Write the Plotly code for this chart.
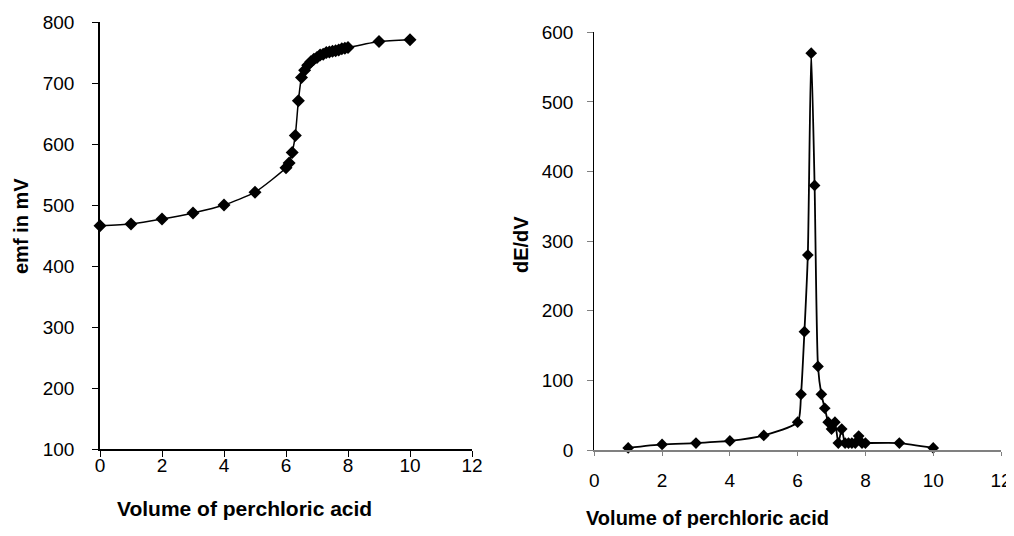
import plotly.graph_objects as go

# Titration data
volume = [0, 1, 2, 3, 4, 5, 6, 6.1, 6.2, 6.3, 6.4, 6.5, 6.6, 6.7, 6.8, 6.9, 7.0,
          7.1, 7.2, 7.3, 7.4, 7.5, 7.6, 7.7, 7.8, 7.9, 8.0, 9, 10]
emf_mv = [466, 469, 477, 487, 500, 521, 561, 569, 586, 614, 671, 709, 721, 729,
          735, 739, 742, 746, 747, 750, 751, 752, 753, 754, 756, 757, 758, 768, 771]

deriv_volume = [1, 2, 3, 4, 5, 6, 6.1, 6.2, 6.3, 6.4, 6.5, 6.6, 6.7, 6.8, 6.9, 7.0,
                7.1, 7.2, 7.3, 7.4, 7.5, 7.6, 7.7, 7.8, 7.9, 8.0, 9, 10]
dE_dV = [3, 8, 10, 13, 21, 40, 80, 170, 280, 570, 380, 120, 80, 60, 40, 30,
         40, 10, 30, 10, 10, 10, 10, 20, 10, 10, 10, 3]

x_ticks = [0, 2, 4, 6, 8, 10, 12]
left_y_ticks = [100, 200, 300, 400, 500, 600, 700, 800]
right_y_ticks = [0, 100, 200, 300, 400, 500, 600]

FONT = "Liberation Sans, Arial, sans-serif"
OFF = 8                 # the page body has a default 8 px margin
W, H = 1014 - OFF, 536 - 2 * OFF   # keep page height within the window (no scrollbar)


def px(x):
    return (x - OFF) / W


def py(y):
    return (H - (y - OFF)) / H


fig = go.Figure()
fig.add_trace(go.Scatter(
    x=volume, y=emf_mv, mode="lines+markers",
    line=dict(color="black", width=1.5, shape="spline", smoothing=0.6),
    marker=dict(symbol="diamond", size=10, color="black"),
    cliponaxis=False, xaxis="x", yaxis="y", showlegend=False))
fig.add_trace(go.Scatter(
    x=deriv_volume, y=dE_dV, mode="lines+markers",
    line=dict(color="black", width=1.8, shape="spline", smoothing=0.6),
    marker=dict(symbol="diamond", size=9, color="black"),
    cliponaxis=False, xaxis="x2", yaxis="y2", showlegend=False))

tickfont = dict(family=FONT, size=19, color="black")

fig.update_layout(
    width=W, height=H,
    margin=dict(l=0, r=0, t=0, b=0, pad=0, autoexpand=False),
    paper_bgcolor="white", plot_bgcolor="white",
    xaxis=dict(domain=[px(100), px(472)], range=[0, 12], tickvals=x_ticks,
               showgrid=False, zeroline=False, showline=True, linecolor="black",
               linewidth=1.5, ticks="outside", ticklen=6, tickcolor="black",
               tickfont=tickfont, ticklabelstandoff=-8, anchor="y",
               automargin=False, ticklabeloverflow="allow"),
    yaxis=dict(domain=[py(449), py(22)], range=[100, 800],
               tickvals=left_y_ticks, showgrid=False, zeroline=False,
               showline=True, linecolor="black", linewidth=1.5,
               ticks="outside", ticklen=6, tickcolor="black",
               tickfont=tickfont, ticklabelstandoff=14, anchor="x",
               automargin=False, ticklabeloverflow="allow"),
    xaxis2=dict(domain=[px(594.3), px(1001)], range=[0, 12], tickvals=x_ticks,
                showgrid=False, zeroline=False, showline=True, linecolor="#808080",
                linewidth=1.5, ticks="outside", ticklen=4, tickcolor="#808080",
                tickfont=tickfont, ticklabelstandoff=8, anchor="y2",
                automargin=False, ticklabeloverflow="allow"),
    yaxis2=dict(domain=[py(450), py(32.3)], range=[0, 600],
                tickvals=right_y_ticks, showgrid=False, zeroline=False,
                showline=True, linecolor="black", linewidth=1.2,
                ticks="outside", ticklen=6, tickcolor="#808080",
                tickfont=tickfont, ticklabelstandoff=10, anchor="x2",
                automargin=False, ticklabeloverflow="allow"),
)

fig.add_annotation(text="<b>Volume of perchloric acid</b>", x=px(244), y=py(508),
                   xref="paper", yref="paper", showarrow=False,
                   font=dict(family=FONT, size=21, color="black"),
                   xanchor="center", yanchor="middle")
fig.add_annotation(text="<b>Volume of perchloric acid</b>", x=px(707), y=py(518),
                   xref="paper", yref="paper", showarrow=False,
                   font=dict(family=FONT, size=20, color="black"),
                   xanchor="center", yanchor="middle")
fig.add_annotation(text="<b>emf in mV</b>", x=px(21), y=py(226),
                   xref="paper", yref="paper", showarrow=False,
                   font=dict(family=FONT, size=20, color="black"),
                   textangle=-90, xanchor="center", yanchor="middle")
fig.add_annotation(text="<b>dE/dV</b>", x=px(521), y=py(245),
                   xref="paper", yref="paper", showarrow=False,
                   font=dict(family=FONT, size=20, color="black"),
                   textangle=-90, xanchor="center", yanchor="middle")

fig.write_html("out.html")
